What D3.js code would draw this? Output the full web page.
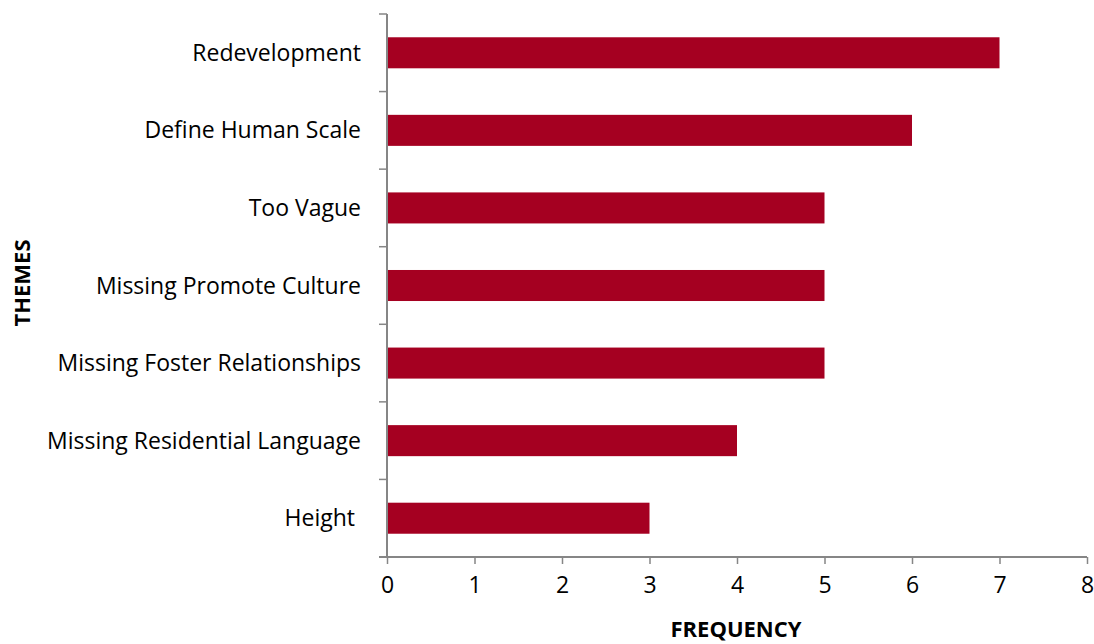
<!DOCTYPE html>
<head>
  <meta charset="utf-8">
  <script src="https://d3js.org/d3.v7.min.js"></script>
  <style>
    body { margin:0; background:#fff; }
    svg { font-family: "Open Sans", sans-serif; }
  </style>
</head>
<body>
  <svg width="1094" height="644"></svg>
  <script>
    var themes = ['Redevelopment', 'Define Human Scale', 'Too Vague', 'Missing Promote Culture',
      'Missing Foster Relationships', 'Missing Residential Language', 'Height '];
    var frequency = [7, 6, 5, 5, 5, 4, 3];
    var xTicks = [0, 1, 2, 3, 4, 5, 6, 7, 8];

    var margin = {top: 14, left: 387, right: 1087, bottom: 557};
    var svg = d3.select('svg');
    var axisColor = '#868686';

    var x = d3.scaleLinear().domain([0, 8]).range([margin.left, margin.right]);
    var y = d3.scaleBand().domain(themes).range([margin.top, margin.bottom])
      .paddingInner(0.6).paddingOuter(0.3);
    // band boundaries for the tick marks on the y axis
    var yEdges = d3.range(themes.length + 1).map(i => margin.top + i * y.step());

    // bars
    svg.append('g').selectAll('rect')
      .data(themes)
      .enter().append('rect')
      .attr('x', x(0))
      .attr('y', d => y(d))
      .attr('width', (d, i) => x(frequency[i]) - x(0))
      .attr('height', y.bandwidth())
      .attr('fill', '#A50021');

    // x axis
    var xAxis = d3.axisBottom(x).tickValues(xTicks).tickSize(7).tickPadding(13);
    var gx = svg.append('g')
      .attr('transform', 'translate(0,' + margin.bottom + ')')
      .call(xAxis);
    gx.select('.domain').attr('d', 'M' + (margin.left - 8) + ',0H' + margin.right)
      .attr('stroke', axisColor).attr('stroke-width', 2);
    gx.selectAll('.tick line').attr('stroke', axisColor).attr('stroke-width', 1.5);
    gx.selectAll('.tick text').attr('font-size', 23).attr('fill', '#000')
      .attr('font-family', '"Open Sans", sans-serif');

    // y axis line and tick marks
    var gy = svg.append('g');
    gy.append('line')
      .attr('x1', margin.left).attr('x2', margin.left)
      .attr('y1', margin.top).attr('y2', margin.bottom)
      .attr('stroke', axisColor).attr('stroke-width', 2);
    gy.selectAll('.ytick')
      .data(yEdges)
      .enter().append('line')
      .attr('x1', margin.left - 8).attr('x2', margin.left)
      .attr('y1', d => d).attr('y2', d => d)
      .attr('stroke', axisColor).attr('stroke-width', 1.5);
    gy.selectAll('.ylabel')
      .data(themes)
      .enter().append('text')
      .attr('x', margin.left - 26)
      .attr('y', d => y(d) + y.bandwidth() / 2)
      .attr('dy', '0.35em')
      .attr('text-anchor', 'end')
      .attr('font-size', 23)
      .style('white-space', 'pre')
      .text(d => d);

    // axis titles
    svg.append('text')
      .attr('transform', 'translate(30,283) rotate(-90)')
      .attr('text-anchor', 'middle')
      .attr('font-size', 22).attr('font-weight', 'bold')
      .text('THEMES');
    svg.append('text')
      .attr('x', 736).attr('y', 637)
      .attr('text-anchor', 'middle')
      .attr('font-size', 22).attr('font-weight', 'bold')
      .text('FREQUENCY');
  </script>
</body>
